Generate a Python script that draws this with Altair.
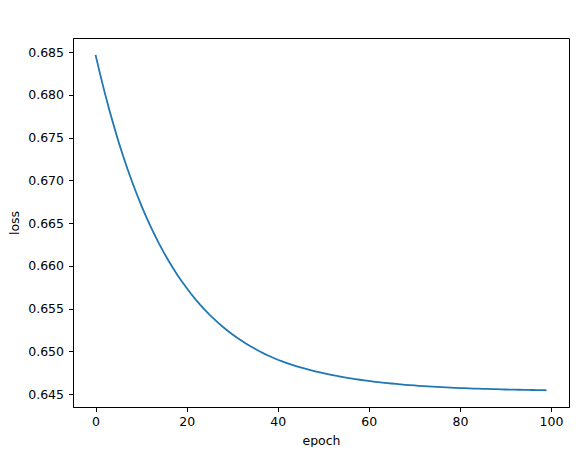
import altair as alt
import pandas as pd

epochs = list(range(100))
loss = [
    0.68470, 0.68244, 0.68031, 0.67831, 0.67642, 0.67463, 0.67296, 0.67137, 0.66988, 0.66847,
    0.66714, 0.66589, 0.66471, 0.66360, 0.66255, 0.66156, 0.66063, 0.65975, 0.65892, 0.65814,
    0.65741, 0.65671, 0.65606, 0.65544, 0.65486, 0.65431, 0.65380, 0.65331, 0.65285, 0.65242,
    0.65201, 0.65163, 0.65127, 0.65092, 0.65060, 0.65030, 0.65001, 0.64974, 0.64949, 0.64925,
    0.64902, 0.64882, 0.64863, 0.64845, 0.64828, 0.64812, 0.64797, 0.64783, 0.64770, 0.64757,
    0.64745, 0.64733, 0.64722, 0.64712, 0.64702, 0.64693, 0.64684, 0.64676, 0.64668, 0.64661,
    0.64654, 0.64647, 0.64641, 0.64635, 0.64629, 0.64624, 0.64619, 0.64614, 0.64609, 0.64605,
    0.64601, 0.64597, 0.64593, 0.64590, 0.64587, 0.64584, 0.64581, 0.64578, 0.64576, 0.64573,
    0.64571, 0.64569, 0.64567, 0.64565, 0.64563, 0.64561, 0.64560, 0.64558, 0.64557, 0.64556,
    0.64554, 0.64553, 0.64552, 0.64551, 0.64550, 0.64549, 0.64548, 0.64547, 0.64546, 0.64545,
]
x_ticks = [0, 20, 40, 60, 80, 100]
y_ticks = [0.645, 0.650, 0.655, 0.660, 0.665, 0.670, 0.675, 0.680, 0.685]

df = pd.DataFrame({"epoch": epochs, "loss": loss})

FONT = "DejaVu Sans"
axis_common = dict(
    grid=False,
    domainColor="black",
    domainWidth=1,
    tickColor="black",
    tickSize=4.5,
    tickWidth=1,
    labelFont=FONT,
    labelFontSize=12.5,
    labelColor="black",
    titleFont=FONT,
    titleFontSize=12.5,
    titleFontWeight="normal",
    titleColor="black",
)

chart = (
    alt.Chart(df)
    .mark_line(color="#1f77b4", strokeWidth=1.8)
    .encode(
        x=alt.X(
            "epoch:Q",
            scale=alt.Scale(domain=[-4.95, 103.95], nice=False, zero=False),
            axis=alt.Axis(values=x_ticks, format="d", title="epoch",
                          labelPadding=4, titlePadding=6, **axis_common),
        ),
        y=alt.Y(
            "loss:Q",
            scale=alt.Scale(domain=[0.64349, 0.68667], nice=False, zero=False),
            axis=alt.Axis(values=y_ticks, format=".3f", title="loss",
                          labelPadding=5, titlePadding=6, **axis_common),
        ),
    )
    .properties(
        width=496,
        height=369,
        autosize=alt.AutoSizeParams(type="none"),
        padding={"left": 65, "top": 30, "right": 5, "bottom": 40},
        background="white",
    )
    .configure_view(stroke="black", strokeWidth=1)
)

chart.save("out.html", embed_options={"renderer": "svg", "actions": False})
